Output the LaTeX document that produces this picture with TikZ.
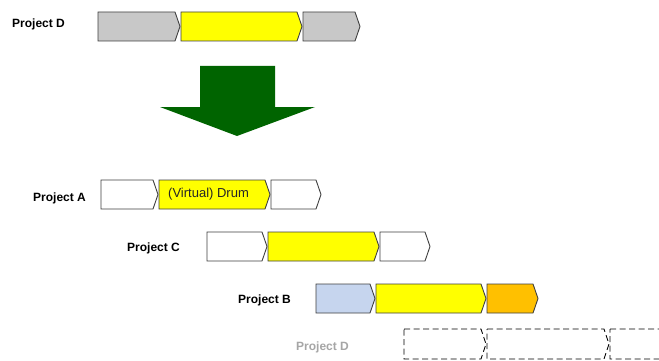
\documentclass[tikz,border=0pt]{standalone}
\usepackage{fontspec}
\setmainfont{Liberation Sans}
\definecolor{boxgray}{HTML}{C8C8C8}
\definecolor{boxyellow}{HTML}{FFFF00}
\definecolor{boxblue}{HTML}{C6D5EE}
\definecolor{boxorange}{HTML}{FFC000}
\definecolor{arrowgreen}{HTML}{006400}
\definecolor{edgegray}{HTML}{404040}
\definecolor{fadetext}{HTML}{A6A6A6}
\newcommand\chevbox[6]{% name, left x, tip x, top y, bottom y, style
  \draw[chev,#6] (#2,#4) -- ({#3-5},#4) -- (#3,{(#4+#5)/2}) -- ({#3-5},#5) -- (#2,#5) -- cycle;
  \coordinate (#1) at ({(#2+#3)/2},{(#4+#5)/2});
}
\tikzset{
  chev/.style={draw=edgegray, line width=0.9pt, line join=miter},
  plabel/.style={font=\fontsize{12}{14}\selectfont\bfseries, anchor=west, inner sep=0pt},
  dashbox/.style={dash pattern=on 6pt off 3.5pt, draw=black, fill=white},
}
\begin{document}
\begin{tikzpicture}[x=1pt,y=-1pt]
\useasboundingbox[fill=white] (0,0) rectangle (659,361);
% Project D top
\node[plabel] (lD1) at (12,24) {Project D};
\chevbox{d1}{98}{180}{12}{41}{fill=boxgray}
\chevbox{d2}{181}{302}{12}{41}{fill=boxyellow}
\chevbox{d3}{303}{360}{12}{41}{fill=boxgray}
% big arrow
\fill[arrowgreen] (200,66) -- (275,66) -- (275,107) -- (315,107) -- (237,136) -- (160,107) -- (200,107) -- cycle;
% Project A
\node[plabel] (lA) at (33,198) {Project A};
\chevbox{a1}{101}{158}{180}{209}{fill=white}
\chevbox{a2}{159}{270}{180}{209}{fill=boxyellow}
\chevbox{a3}{271}{321}{180}{209}{fill=white}
\node[anchor=west, inner sep=0pt, font=\fontsize{13}{15}\selectfont, text=black!85] (drum) at (168,194.5) {(Virtual) Drum};
% Project C
\node[plabel] (lC) at (127,248) {Project C};
\chevbox{c1}{207}{267}{232}{261}{fill=white}
\chevbox{c2}{268}{379}{232}{261}{fill=boxyellow}
\chevbox{c3}{380}{430}{232}{261}{fill=white}
% Project B
\node[plabel] (lB) at (238,300) {Project B};
\chevbox{b1}{316}{375}{284}{313}{fill=boxblue}
\chevbox{b2}{376}{486}{284}{313}{fill=boxyellow}
\chevbox{b3}{487}{538}{284}{313}{fill=boxorange}
% Project D (bottom, faded)
\node[plabel, text=fadetext] (lD2) at (296,347) {Project D};
\chevbox{e1}{404}{486}{329}{359}{dashbox}
\chevbox{e2}{487}{609}{329}{359}{dashbox}
\chevbox{e3}{610}{700}{329}{359}{dashbox}
\end{tikzpicture}
\end{document}
